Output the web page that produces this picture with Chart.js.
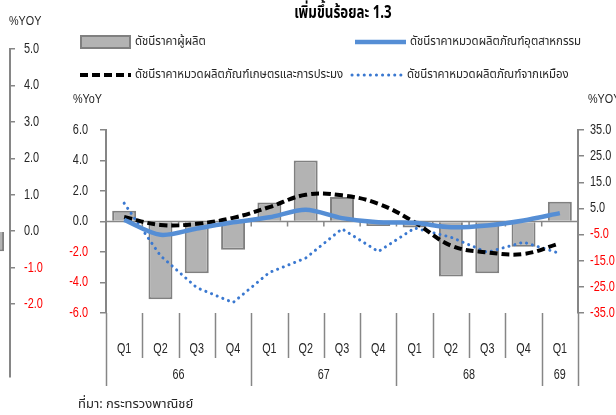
<!DOCTYPE html>
<html lang="th">
<head>
<meta charset="UTF-8">
<title>ดัชนีราคาผู้ผลิต</title>
<script src="https://cdn.jsdelivr.net/npm/chart.js"></script>
<style>
  html, body { margin: 0; padding: 0; background: #fff; overflow: hidden; }
  #wrap { position: relative; width: 616px; height: 415px; overflow: hidden; }
  #ghost { position: absolute; left: -60px; top: 0; }
  #main { position: absolute; left: 0; top: 0; }
</style>
</head>
<body>
<div id="wrap">
  <canvas id="ghost" width="120" height="415"></canvas>
  <canvas id="main" width="616" height="415"></canvas>
</div>
<script>
// data
const quarters = ['Q1', 'Q2', 'Q3', 'Q4', 'Q1', 'Q2', 'Q3', 'Q4', 'Q1', 'Q2', 'Q3', 'Q4', 'Q1'];
const years = ['66', '67', '68', '69'];
const yearSpans = [4, 4, 4, 1];
const ppi = [0.7, -5.1, -3.4, -1.85, 1.25, 4.0, 1.6, -0.3, -0.4, -3.6, -3.4, -1.65, 1.3];
const industrial = [0.6, -5.1, -2.7, -0.3, 1.6, 4.5, 1.3, -0.3, -0.5, -2.2, -1.5, 0.4, 3.2];
const agri = [1.7, -1.3, -0.9, 1.4, 5.5, 10.2, 10.0, 6.8, -0.3, -9.2, -11.8, -12.4, -8.4];
const mining = [7.0, -13.1, -25.3, -31.0, -19.5, -14.0, -2.8, -11.5, -2.5, -6.0, -11.8, -7.9, -12.2];
const leftTicks = [6, 4, 2, 0, -2, -4, -6];
const rightTicks = [35, 25, 15, 5, -5, -15, -25, -35];
const ghostCategories = [''];
const ghostValues = [-0.55];
const ghostTicks = [5, 4, 3, 2, 1, 0, -1, -2];

const THAI = "Tahoma, 'Noto Sans Thai', 'Leelawadee UI', Loma, Garuda, sans-serif";
const NUM = "'Liberation Sans', Arial, sans-serif";
const AXIS = '#868686';
const TXT = '#262626';
const RED = '#ff0000';

// the source uses a narrow face, so squeeze text horizontally
function narrow(ctx, text, x, y, align, sx) {
  ctx.save();
  ctx.translate(x, y);
  ctx.scale(sx, 1);
  ctx.textAlign = align;
  ctx.fillText(text, 0, 0);
  ctx.restore();
}

function tickLabels(ctx, scale, values, x, align) {
  ctx.save();
  ctx.font = '14px ' + NUM;
  ctx.textBaseline = 'middle';
  values.forEach(v => {
    ctx.fillStyle = v < 0 ? RED : TXT;
    narrow(ctx, v.toFixed(1), x, scale.getPixelForValue(v), align, 0.78);
  });
  ctx.restore();
}

const decor = {
  id: 'decor',
  beforeDatasetsDraw(chart) {
    const { ctx, chartArea: a, scales: { x, y } } = chart;
    const y0 = y.getPixelForValue(0);
    const step = x.getPixelForValue(1) - x.getPixelForValue(0);
    ctx.save();
    ctx.strokeStyle = AXIS;
    ctx.lineWidth = 1.5;
    ctx.beginPath();
    ctx.moveTo(a.left, y0);
    ctx.lineTo(a.right, y0);
    for (let i = 1; i < quarters.length; i++) {
      const bx = x.getPixelForValue(i) - step / 2;
      ctx.moveTo(bx, y0);
      ctx.lineTo(bx, y0 + 5);
    }
    ctx.stroke();
    ctx.restore();
  },
  afterDraw(chart) {
    const { ctx, chartArea: a, scales: { x, y, y1 } } = chart;
    const step = x.getPixelForValue(1) - x.getPixelForValue(0);
    const edge = i => x.getPixelForValue(i) - step / 2;
    ctx.save();

    tickLabels(ctx, y, leftTicks, a.left - 18, 'right');
    tickLabels(ctx, y1, rightTicks, a.right + 12, 'left');

    // category separators
    const yearEdges = [0];
    yearSpans.reduce((s, n) => { yearEdges.push(s + n); return s + n; }, 0);
    ctx.strokeStyle = AXIS;
    ctx.lineWidth = 1.5;
    ctx.beginPath();
    for (let i = 0; i <= quarters.length; i++) {
      const bx = Math.round(edge(i)) + 0.5;
      ctx.moveTo(bx, a.bottom);
      ctx.lineTo(bx, yearEdges.includes(i) ? 386 : 358);
    }
    ctx.stroke();

    ctx.fillStyle = TXT;
    ctx.font = '15px ' + NUM;
    ctx.textBaseline = 'middle';
    quarters.forEach((q, i) => narrow(ctx, q, x.getPixelForValue(i), 349, 'center', 0.72));
    let start = 0;
    years.forEach((yr, k) => {
      narrow(ctx, yr, (edge(start) + edge(start + yearSpans[k])) / 2, 375, 'center', 0.72);
      start += yearSpans[k];
    });

    // unit labels
    ctx.font = '12px ' + NUM;
    narrow(ctx, '%YoY', 73, 100, 'left', 0.9);
    narrow(ctx, '%YOY', 588, 100, 'left', 0.9);

    // title (clipped at top like the source)
    ctx.font = 'bold 18px ' + THAI;
    ctx.textBaseline = 'alphabetic';
    ctx.fillStyle = '#000';
    narrow(ctx, 'เพิ่มขึ้นร้อยละ 1.3', 343, 18, 'center', 0.74);

    // legend, 2 x 2
    const slots = [[80, 42], [355, 42], [80, 75], [352, 75]];
    ctx.font = '13px ' + THAI;
    ctx.textBaseline = 'middle';
    chart.data.datasets.forEach((ds, i) => {
      const [lx, ly] = slots[i];
      ctx.save();
      if (ds.type === 'bar') {
        ctx.fillStyle = ds.backgroundColor;
        ctx.strokeStyle = ds.borderColor;
        ctx.lineWidth = 2;
        ctx.fillRect(lx + 1, ly - 6, 49, 12);
        ctx.strokeRect(lx + 1, ly - 6, 49, 12);
      } else {
        ctx.strokeStyle = ds.borderColor;
        ctx.lineWidth = ds.borderWidth;
        ctx.lineCap = ds.borderCapStyle || 'butt';
        ctx.setLineDash(ds.borderDash || []);
        ctx.beginPath();
        ctx.moveTo(lx, ly);
        ctx.lineTo(lx + 51, ly);
        ctx.stroke();
      }
      ctx.restore();
      ctx.fillStyle = TXT;
      narrow(ctx, ds.label, lx + 55, ly, 'left', 0.88);
    });

    // source
    ctx.font = '13px ' + THAI;
    ctx.textAlign = 'left';
    ctx.fillText('ที่มา: กระทรวงพาณิชย์', 78, 405);
    ctx.restore();
  }
};

new Chart(document.getElementById('main'), {
  type: 'bar',
  data: {
    labels: quarters,
    datasets: [
      {
        type: 'bar', label: 'ดัชนีราคาผู้ผลิต', data: ppi, yAxisID: 'y',
        backgroundColor: '#b3b3b3', borderColor: '#808080', borderWidth: 2,
        barPercentage: 0.66, categoryPercentage: 1, order: 4
      },
      {
        type: 'line', label: 'ดัชนีราคาหมวดผลิตภัณฑ์อุตสาหกรรม', data: industrial, yAxisID: 'y1',
        borderColor: '#558ed5', borderWidth: 4.5, pointRadius: 0, tension: 0.3, order: 1
      },
      {
        type: 'line', label: 'ดัชนีราคาหมวดผลิตภัณฑ์เกษตรและการประมง', data: agri, yAxisID: 'y1',
        borderColor: '#000000', borderWidth: 4, borderDash: [8, 4], pointRadius: 0, tension: 0.4, order: 2
      },
      {
        type: 'line', label: 'ดัชนีราคาหมวดผลิตภัณฑ์จากเหมือง', data: mining, yAxisID: 'y1',
        borderColor: '#3a78d0', borderWidth: 3, borderDash: [0.1, 6], borderCapStyle: 'round',
        pointRadius: 0, tension: 0, order: 3
      }
    ]
  },
  options: {
    responsive: false,
    animation: false,
    layout: { padding: { top: 130, bottom: 102, left: 0, right: 0 } },
    plugins: { legend: { display: false }, title: { display: false }, tooltip: { enabled: false } },
    scales: {
      x: { display: false, offset: true },
      y: {
        position: 'left', min: -6, max: 6,
        afterBuildTicks: s => { s.ticks = leftTicks.map(v => ({ value: v })); },
        afterFit: s => { s.width = 106; },
        grid: { drawOnChartArea: false, tickLength: 6, color: AXIS, lineWidth: 1.5 },
        border: { color: AXIS, width: 2 },
        ticks: { display: false }
      },
      y1: {
        position: 'right', min: -35, max: 35,
        afterBuildTicks: s => { s.ticks = rightTicks.map(v => ({ value: v })); },
        afterFit: s => { s.width = 38; },
        grid: { drawOnChartArea: false, tickLength: 6, color: AXIS, lineWidth: 1.5 },
        border: { color: AXIS, width: 2 },
        ticks: { display: false }
      }
    }
  },
  plugins: [decor]
});

// the cut-off neighbour chart on the far left
new Chart(document.getElementById('ghost'), {
  type: 'bar',
  data: {
    labels: ghostCategories,
    datasets: [{
      data: ghostValues, backgroundColor: '#b3b3b3', borderColor: '#808080', borderWidth: 2,
      barPercentage: 0.83, categoryPercentage: 1
    }]
  },
  options: {
    responsive: false,
    animation: false,
    layout: { padding: { top: 49, bottom: 38, left: 0, right: 0 } },
    plugins: { legend: { display: false }, tooltip: { enabled: false } },
    scales: {
      x: { display: false },
      y: {
        position: 'right', min: -4, max: 5,
        afterBuildTicks: s => { s.ticks = ghostTicks.map(v => ({ value: v })); },
        afterFit: s => { s.width = 50; },
        grid: { drawOnChartArea: false, tickLength: 5, color: AXIS, lineWidth: 1.5 },
        border: { color: AXIS, width: 2 },
        ticks: { display: false }
      }
    }
  },
  plugins: [{
    id: 'ghostText',
    afterDraw(c) {
      const { ctx, chartArea: a, scales: { y } } = c;
      tickLabels(ctx, y, ghostTicks, a.right + 14, 'left');
      ctx.save();
      ctx.fillStyle = TXT;
      ctx.font = '12px ' + NUM;
      ctx.textBaseline = 'middle';
      narrow(ctx, '%YOY', 69, 22, 'left', 0.9);
      ctx.restore();
    }
  }]
});
</script>
</body>
</html>
